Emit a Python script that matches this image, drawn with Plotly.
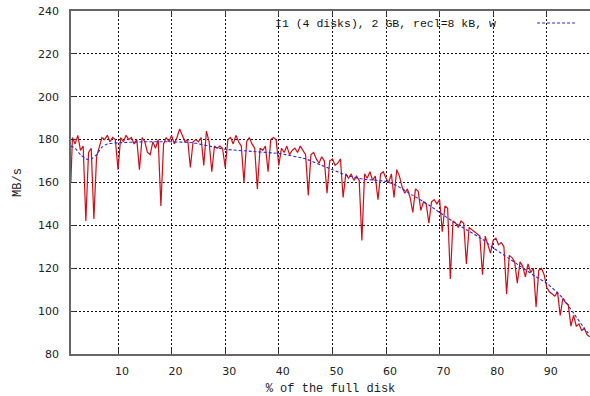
import numpy as np
import plotly.graph_objects as go

# ---- data ----
red_x = [1.2] + list(np.arange(1.5, 98.01, 0.5))
red_y = [
    160,
    181, 178, 182, 175, 177, 142, 174, 176, 143, 172,
    177, 181, 180, 182, 179, 181, 180, 166, 181, 179,
    182, 180, 181, 178, 180, 166, 181, 179, 174, 173,
    179, 176, 180, 149, 178, 181, 179, 182, 178, 181,
    185, 182, 179, 180, 167, 179, 180, 179, 181, 168,
    184, 179, 165, 177, 176, 177, 176, 167, 180, 181,
    178, 182, 179, 177, 160, 179, 181, 178, 176, 157,
    176, 175, 177, 165, 180, 181, 180, 168, 176, 174,
    177, 173, 175, 176, 174, 177, 175, 173, 154, 173,
    174, 171, 169, 172, 170, 155, 170, 171, 168, 169,
    171, 153, 164, 162, 164, 161, 163, 161, 133, 164,
    162, 165, 161, 163, 152, 164, 165, 162, 160, 164,
    153, 166, 163, 158, 155, 157, 153, 146, 157, 156,
    147, 151, 150, 141, 151, 152, 150, 152, 137, 149,
    148, 115, 142, 141, 139, 142, 141, 122, 139, 138,
    137, 136, 135, 117, 135, 131, 127, 133, 134, 131,
    132, 130, 108, 126, 125, 123, 113, 123, 121, 116,
    122, 118, 120, 102, 119, 120, 117, 111, 109, 108,
    107, 109, 98, 106, 104, 103, 93, 98, 93, 94,
    91, 92, 89, 88,
]
blue_x = [1.2, 2, 3, 4, 5, 6, 7, 8, 10, 15, 20, 24, 27, 30, 35, 40, 45, 48,
          50, 53, 56, 60, 62, 65, 68, 70, 73, 75, 78, 80, 83, 85, 88, 90,
          93, 95, 97, 98]
blue_y = [177, 176, 173, 171, 171, 173, 176.5, 178, 178.5, 179, 179, 178.5,
          177, 175.5, 174.5, 173.5, 171, 168, 166, 163, 161.5, 160.5, 158.5,
          154, 149.5, 146, 141, 138, 133.5, 129.5, 124.5, 121, 116, 113,
          106, 99, 92, 89]
y_ticks = [80, 100, 120, 140, 160, 180, 200, 220, 240]
x_ticks = [10, 20, 30, 40, 50, 60, 70, 80, 90]
legend_label = "I1 (4 disks), 2 GB, recl=8 kB, w"

fig = go.Figure()
fig.add_trace(go.Scatter(x=red_x, y=red_y, mode="lines",
                         line=dict(color="#c8101a", width=1.2),
                         showlegend=False))
fig.add_trace(go.Scatter(x=blue_x, y=blue_y, mode="lines", name=legend_label,
                         line=dict(color="#2a2ad0", width=1.1, dash="3px,2px",
                                   shape="spline", smoothing=0.6),
                         showlegend=False))

tick_font = dict(family="DejaVu Sans", size=11, color="#222")
title_font = dict(family="Liberation Mono", size=12, color="#222")

fig.update_xaxes(range=[1.23, 98.06], tickvals=x_ticks, ticks="inside", ticklen=5,
                 tickcolor="#333", showline=True, linecolor="#666", linewidth=1.6,
                 mirror="ticks", showgrid=True, gridcolor="#111", gridwidth=1,
                 griddash="2px,2px", zeroline=False, tickfont=tick_font,
                 ticklabelstandoff=6, ticklabelshift=4,
                 title=dict(text="% of the full disk", font=title_font, standoff=9))
fig.update_yaxes(range=[80, 240], tickvals=y_ticks, ticks="inside", ticklen=5,
                 tickcolor="#333", showline=True, linecolor="#666", linewidth=1.6,
                 mirror=False, showgrid=True, gridcolor="#111", gridwidth=1,
                 griddash="2px,2px", zeroline=False, tickfont=tick_font,
                 ticklabelstandoff=8,
                 title=dict(text="MB/s", font=title_font, standoff=14))

fig.add_annotation(xref="paper", yref="paper", x=0.823, y=0.965,
                   xanchor="right", yanchor="middle", showarrow=False,
                   text=legend_label,
                   font=dict(family="Liberation Mono", size=11.5, color="#111"))
fig.add_shape(type="line", xref="paper", yref="paper", x0=0.898, x1=0.971,
              y0=0.965, y1=0.965, line=dict(color="#2a2ad0", width=1.1, dash="3px,2px"))

fig.update_layout(width=590, height=396, margin=dict(l=71, r=0, t=11, b=42),
                  plot_bgcolor="white", paper_bgcolor="white", showlegend=False)

fig.write_html("out.html", config={"displayModeBar": False},
               post_script="document.body.style.margin='0';")
